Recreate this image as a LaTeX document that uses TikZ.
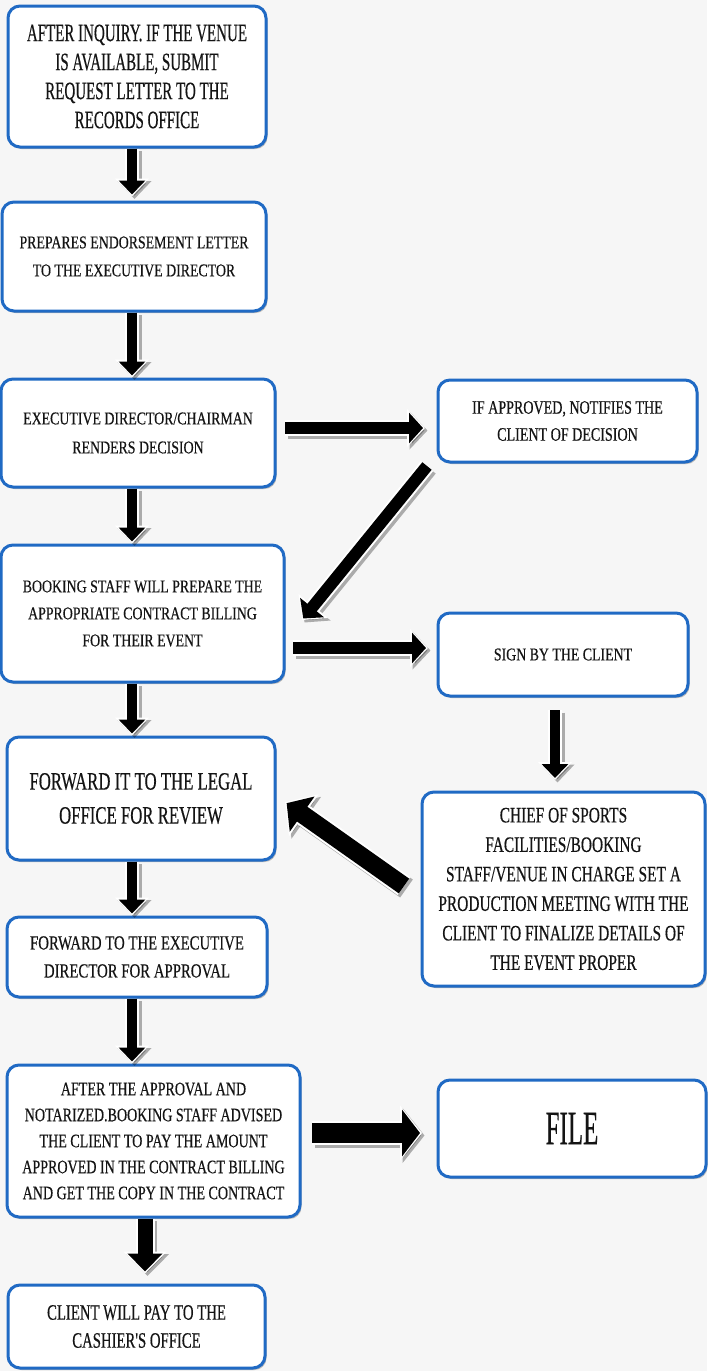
\documentclass[tikz,border=0pt]{standalone}
\usepackage{fontspec}
\setmainfont{Liberation Serif}
\newfontfamily\fsa[FakeStretch=0.60,FakeBold=0.4]{Liberation Serif}
\newfontfamily\fsb[FakeStretch=0.67,FakeBold=0.4]{Liberation Serif}
\newfontfamily\fsc[FakeStretch=0.70,FakeBold=0.4]{Liberation Serif}
\newfontfamily\fsd[FakeStretch=0.74,FakeBold=0.4]{Liberation Serif}
\newfontfamily\fse[FakeStretch=0.77,FakeBold=0.4]{Liberation Serif}
\newfontfamily\fsf[FakeStretch=0.52,FakeBold=0.3]{Liberation Serif}
\usetikzlibrary{arrows.meta,shadows}
\definecolor{boxblue}{RGB}{32,106,196}
\definecolor{bgc}{RGB}{246,246,246}
\definecolor{ink}{RGB}{20,20,20}
\tikzset{
  stepbox/.style={draw=boxblue, line width=3pt, rounded corners=12pt, fill=white,
    align=center, text=ink, inner sep=0pt,
    drop shadow={shadow xshift=1.5pt, shadow yshift=-2pt, opacity=0.25, fill=black}},
  fat/.style args={#1/#2/#3/#4/#5/#6}{
    draw=black, line width=#1pt, -{Triangle[width=#2pt,length=#3pt]}, shorten >=2pt,
    preaction={draw=black, opacity=0.3, line width=#4pt, -{Triangle[width=#5pt,length=#6pt]},
      shorten >=0pt, transform canvas={xshift=2.5pt,yshift=-2.5pt}},
    preaction={draw=white, line width=#4pt, -{Triangle[width=#5pt,length=#6pt]}, shorten >=0pt}},
  fatS/.style={fat=10/26/14/14/33/18},
  fatM/.style={fat=12/30/14/16/37/18},
  fatL/.style={fat=18/42/19/22/50/23},
}
\begin{document}
\begin{tikzpicture}[x=1pt,y=-1pt]
\useasboundingbox (0,0) rectangle (707,1371);
\fill[bgc] (0,0) rectangle (707,1371);
\coordinate (colx) at (132,0);

\node[stepbox, minimum width=258pt, minimum height=141pt, font={\fsa\fontsize{25}{29}\selectfont}] (b1) at (137,76.5)
  {AFTER INQUIRY. IF THE VENUE\\IS AVAILABLE,  SUBMIT\\REQUEST LETTER TO THE\\RECORDS OFFICE};
\node[stepbox, minimum width=264pt, minimum height=109pt, font={\fse\fontsize{18}{28}\selectfont}] (b2) at (134,256.5)
  {PREPARES ENDORSEMENT  LETTER\\TO THE EXECUTIVE DIRECTOR};
\node[stepbox, minimum width=274pt, minimum height=108pt, font={\fse\fontsize{18}{29}\selectfont}] (b3) at (138,433)
  {EXECUTIVE DIRECTOR/CHAIRMAN\\RENDERS DECISION};
\node[stepbox, minimum width=259pt, minimum height=82pt, font={\fsd\fontsize{19}{27}\selectfont}] (b4) at (567.5,421)
  {IF APPROVED, NOTIFIES THE\\CLIENT OF DECISION};
\node[stepbox, minimum width=283pt, minimum height=137pt, font={\fse\fontsize{18}{27}\selectfont}] (b5) at (142.5,613.5)
  {BOOKING STAFF WILL  PREPARE THE\\APPROPRIATE  CONTRACT BILLING\\FOR THEIR EVENT};
\node[stepbox, minimum width=250pt, minimum height=83pt, font={\fse\fontsize{18}{27}\selectfont}] (b6) at (563,654.5)
  {SIGN BY THE CLIENT};
\node[stepbox, minimum width=268pt, minimum height=123pt, font={\fsb\fontsize{25}{34}\selectfont}] (b7) at (141,798.5)
  {FORWARD IT TO THE LEGAL\\OFFICE FOR REVIEW};
\node[stepbox, minimum width=283pt, minimum height=194pt, font={\fsc\fontsize{22}{29.5}\selectfont}] (b8) at (563.5,889)
  {CHIEF OF SPORTS\\FACILITIES/BOOKING\\STAFF/VENUE IN CHARGE SET A\\PRODUCTION MEETING WITH THE\\CLIENT TO FINALIZE DETAILS OF\\THE EVENT PROPER};
\node[stepbox, minimum width=260pt, minimum height=80pt, font={\fsd\fontsize{20}{28}\selectfont}] (b9) at (137,957)
  {FORWARD TO THE EXECUTIVE\\DIRECTOR FOR APPROVAL};
\node[stepbox, minimum width=293pt, minimum height=152pt, font={\fsd\fontsize{19}{26}\selectfont}] (b10) at (153.5,1141)
  {AFTER THE APPROVAL AND\\NOTARIZED.BOOKING STAFF ADVISED\\THE CLIENT TO PAY THE AMOUNT\\APPROVED IN THE CONTRACT BILLING\\AND GET THE COPY IN THE CONTRACT};
\node[stepbox, minimum width=268pt, minimum height=97pt, font={\fsf\fontsize{48}{50}\selectfont}] (b11) at (572,1128.5)
  {FILE};
\node[stepbox, minimum width=257pt, minimum height=83pt, font={\fsb\fontsize{22}{28}\selectfont}] (b12) at (136.5,1326.5)
  {CLIENT WILL PAY TO THE\\CASHIER'S OFFICE};

% left column
\draw[fatS] (b1.south -| colx) -- ([shift={(0,-4)}]b2.north -| colx);
\draw[fatS] (b2.south -| colx) -- (b3.north -| colx);
\draw[fatS] (b3.south -| colx) -- (b5.north -| colx);
\draw[fatS] (b5.south -| colx) -- (b7.north -| colx);
\draw[fatS] (b7.south -| colx) -- (b9.north -| colx);
\draw[fatS] (b9.south -| colx) -- (b10.north -| colx);
\draw[fat=15/34/18/19/42/22] ([shift={(-8.5,0)}]b10.south) -- ([shift={(8.5,-10)}]b12.north);
% right side
\draw[fatM] ([shift={(8.5,-5)}]b3.east) -- ([shift={(-11.5,7)}]b4.west);
\draw[fatM] ([shift={(-9.5,2.5)}]b4.south west) -- ([shift={(16.5,6.5)}]b5.east);
\draw[fatM] ([shift={(7.5,34.5)}]b5.east) -- ([shift={(-8.5,-6.5)}]b6.west);
\draw[fatS] ([shift={(-8,12.5)}]b6.south) -- ([shift={(-8.5,-10.5)}]b8.north);
\draw[fatL] ([shift={(-16.5,-3)}]b8.west) -- ([shift={(8.5,3.5)}]b7.east);
\draw[fat=20/46/18/24/54/22] ([shift={(10.5,-8)}]b10.east) -- ([shift={(-14.5,4.5)}]b11.west);
\end{tikzpicture}
\end{document}
